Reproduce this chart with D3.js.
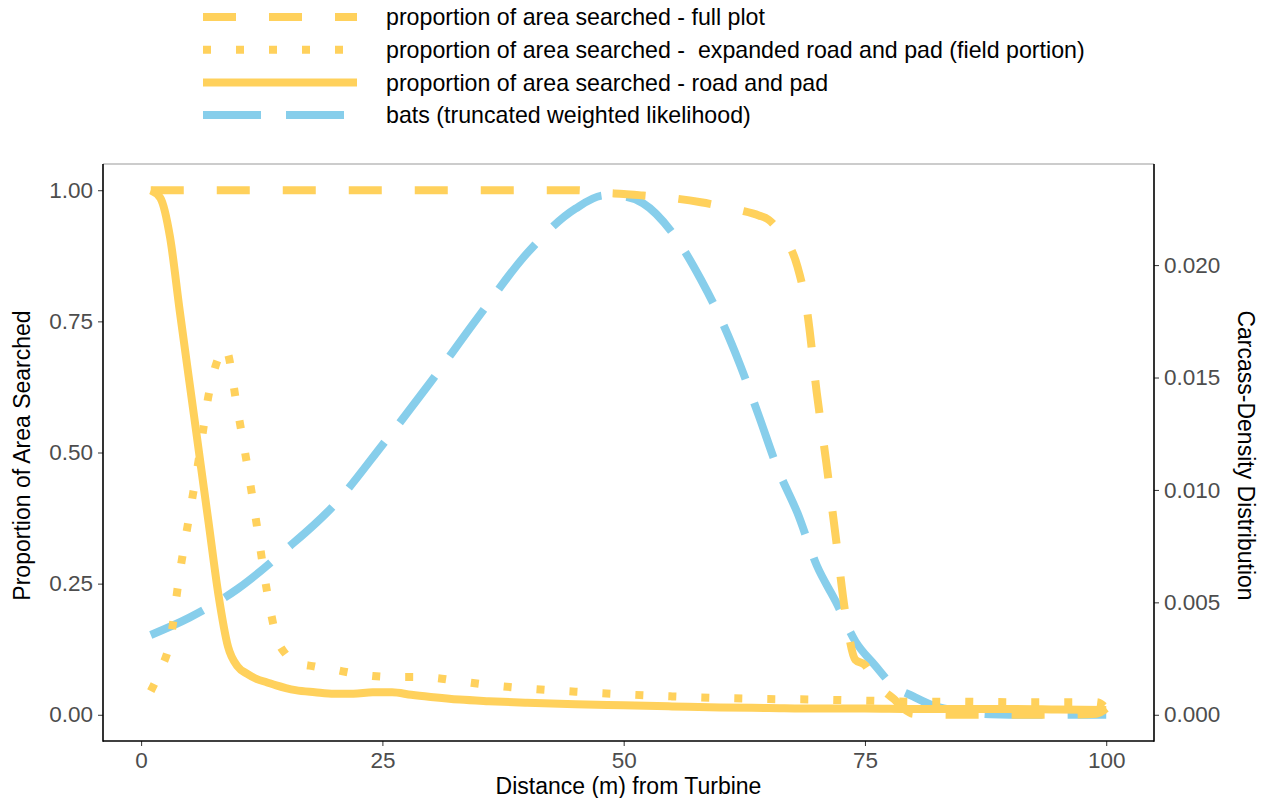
<!DOCTYPE html>
<html>
<head>
<meta charset="utf-8">
<style>
  body { margin: 0; background: #fff; }
  svg text { font-family: "Liberation Sans", Arial, sans-serif; }
  .tick text { fill: #4d4d4d; font-size: 22.5px; }
  .tick line { stroke: #333; }
  .domain { stroke: none; }
</style>
</head>
<body>
<svg width="1265" height="798"></svg>
<script src="https://d3js.org/d3.v7.min.js"></script>
<script>

// distance (m) and proportion of area searched - full plot
var fullDist = [1, 45, 48, 50, 52, 55, 58, 60, 62, 64, 65, 66, 67, 68, 69, 70, 71, 72, 73, 74, 75, 76, 77, 78, 79, 80, 85, 90, 95, 99, 100];
var fullProp = [1.0, 1.0, 0.995, 0.993, 0.99, 0.985, 0.977, 0.97, 0.962, 0.952, 0.944, 0.925, 0.9, 0.855, 0.77, 0.615, 0.48, 0.335, 0.19, 0.105, 0.095, 0.065, 0.045, 0.03, 0.012, 0.002, 0.0, 0.0, 0.0, 0.002, 0.012];

// expanded road and pad (field portion)
var fieldDist = [1, 2, 3, 4, 5, 6, 7, 8, 8.7, 10, 11, 12, 13, 14, 15, 16, 18, 20, 22, 24, 26, 28, 30, 33, 36, 40, 45, 50, 55, 60, 65, 70, 75, 80, 85, 90, 95, 99, 100];
var fieldProp = [0.045, 0.085, 0.14, 0.27, 0.38, 0.49, 0.61, 0.68, 0.70, 0.58, 0.475, 0.36, 0.24, 0.15, 0.115, 0.10, 0.092, 0.086, 0.079, 0.074, 0.072, 0.072, 0.071, 0.064, 0.057, 0.05, 0.044, 0.039, 0.035, 0.032, 0.03, 0.029, 0.027, 0.025, 0.025, 0.024, 0.024, 0.024, 0.012];

// road and pad
var roadDist = [1, 2, 3, 4, 5, 6, 7, 8, 9, 10, 11, 12, 13, 14, 15, 16, 18, 20, 22, 24, 26, 28, 30, 33, 36, 40, 45, 50, 55, 60, 65, 70, 75, 80, 85, 90, 95, 100];
var roadProp = [1.0, 0.985, 0.91, 0.77, 0.635, 0.5, 0.365, 0.23, 0.13, 0.092, 0.078, 0.068, 0.062, 0.056, 0.051, 0.047, 0.043, 0.04, 0.04, 0.043, 0.043, 0.038, 0.034, 0.029, 0.026, 0.023, 0.02, 0.018, 0.016, 0.014, 0.013, 0.012, 0.012, 0.011, 0.011, 0.011, 0.01, 0.009];

// bats carcass density (right axis)
var batDist = [1, 5, 10, 15, 20, 25, 30, 35, 40, 45, 48, 50, 52, 55, 58, 60, 62, 64, 66, 68, 70, 72, 74, 76, 78, 80, 82, 85, 88, 90, 95, 100];
var batDens = [0.00355, 0.00432, 0.0056, 0.00735, 0.00933, 0.012, 0.0148, 0.01773, 0.02053, 0.02251, 0.0231, 0.02305, 0.02275, 0.02146, 0.01936, 0.01766, 0.01563, 0.0133, 0.0109, 0.00898, 0.00665, 0.00502, 0.00327, 0.00222, 0.00126, 0.00082, 0.00042, 0.00014, 0.00002, 0, 0, 0];

var leftTicks = [0, 0.25, 0.5, 0.75, 1];
var rightTicks = [0, 0.005, 0.01, 0.015, 0.02];
var xTicks = [0, 25, 50, 75, 100];
var densFactor = 0.02333;   // right axis value at left = 1

var legendLabels = [
  "proportion of area searched - full plot",
  "proportion of area searched -  expanded road and pad (field portion)",
  "proportion of area searched - road and pad",
  "bats (truncated weighted likelihood)"
];

var yellow = "#ffd15c", blue = "#87ceeb";

var svg = d3.select("svg"),
    margin = {top: 164, right: 111, bottom: 57, left: 103},
    width = +svg.attr("width") - margin.left - margin.right,
    height = +svg.attr("height") - margin.top - margin.bottom,
    g = svg.append("g").attr("transform", "translate(" + margin.left + "," + margin.top + ")");

var x = d3.scaleLinear().domain([1 - 0.05 * 99, 100 + 0.05 * 99]).range([0, width]);
var y = d3.scaleLinear().domain([-0.05, 1.05]).range([height, 0]);
var yR = d3.scaleLinear().domain(y.domain().map(function(v) { return v * densFactor; })).range([height, 0]);

function pairs(xs, ys) { return xs.map(function(d, i) { return [d, ys[i]]; }); }

var lineL = d3.line().x(function(d) { return x(d[0]); }).y(function(d) { return y(d[1]); }).curve(d3.curveMonotoneX);
var lineR = d3.line().x(function(d) { return x(d[0]); }).y(function(d) { return yR(d[1]); }).curve(d3.curveMonotoneX);

// frame
g.append("line").attr("x1", 0).attr("x2", width).attr("y1", 0).attr("y2", 0)
  .attr("stroke", "#999").attr("stroke-width", 1.2);

// series
var series = [
  {data: pairs(batDist, batDens), line: lineR, color: blue, dash: "58,25"},
  {data: pairs(fullDist, fullProp), line: lineL, color: yellow, dash: "33,33"},
  {data: pairs(roadDist, roadProp), line: lineL, color: yellow, dash: null},
  {data: pairs(fieldDist, fieldProp), line: lineL, color: yellow, dash: "8,25"}
];

series.forEach(function(s) {
  g.append("path")
      .datum(s.data)
      .attr("fill", "none")
      .attr("stroke", s.color)
      .attr("stroke-width", 8)
      .attr("stroke-linejoin", "round")
      .attr("stroke-linecap", "butt")
      .attr("stroke-dasharray", s.dash)
      .attr("d", s.line);
});

// axes
g.append("g")
    .attr("transform", "translate(0," + height + ")")
    .call(d3.axisBottom(x).tickValues(xTicks).tickSize(5).tickPadding(6).tickFormat(d3.format("d")));

g.append("g")
    .call(d3.axisLeft(y).tickValues(leftTicks).tickSize(5).tickPadding(5).tickFormat(d3.format(".2f")));

g.append("g")
    .attr("transform", "translate(" + width + ",0)")
    .call(d3.axisRight(yR).tickValues(rightTicks).tickSize(5).tickPadding(5).tickFormat(d3.format(".3f")));

g.append("line").attr("x1", 0).attr("x2", width).attr("y1", height).attr("y2", height)
  .attr("stroke", "#000").attr("stroke-width", 1.6);
g.append("line").attr("x1", 0).attr("x2", 0).attr("y1", 0).attr("y2", height + 0.8)
  .attr("stroke", "#000").attr("stroke-width", 1.6);
g.append("line").attr("x1", width).attr("x2", width).attr("y1", 0).attr("y2", height + 0.8)
  .attr("stroke", "#000").attr("stroke-width", 1.6);

// axis titles
svg.append("text")
    .attr("x", margin.left + width / 2)
    .attr("y", 794)
    .attr("text-anchor", "middle")
    .style("font-size", "23px")
    .text("Distance (m) from Turbine");

svg.append("text")
    .attr("transform", "translate(30," + (margin.top + height / 2 + 3) + ") rotate(-90)")
    .attr("text-anchor", "middle")
    .style("font-size", "23px")
    .text("Proportion of Area Searched");

svg.append("text")
    .attr("transform", "translate(1238," + (margin.top + height / 2 + 3) + ") rotate(90)")
    .attr("text-anchor", "middle")
    .style("font-size", "23px")
    .text("Carcass-Density Distribution");

// legend
var legend = svg.append("g").attr("class", "legend");
var keyStyles = [
  {color: yellow, dash: "33,33"},
  {color: yellow, dash: "8,25"},
  {color: yellow, dash: null},
  {color: blue, dash: "58,25"}
];
legendLabels.forEach(function(lbl, i) {
  var cy = 17 + i * 32.7;
  legend.append("line")
      .attr("x1", 203).attr("x2", 357)
      .attr("y1", cy).attr("y2", cy)
      .attr("stroke", keyStyles[i].color)
      .attr("stroke-width", 8)
      .attr("stroke-dasharray", keyStyles[i].dash);
  legend.append("text")
      .attr("x", 386)
      .attr("y", cy)
      .attr("dy", "0.36em")
      .style("font-size", "23.2px")
      .style("white-space", "pre")
      .text(lbl);
});

</script>
</body>
</html>
